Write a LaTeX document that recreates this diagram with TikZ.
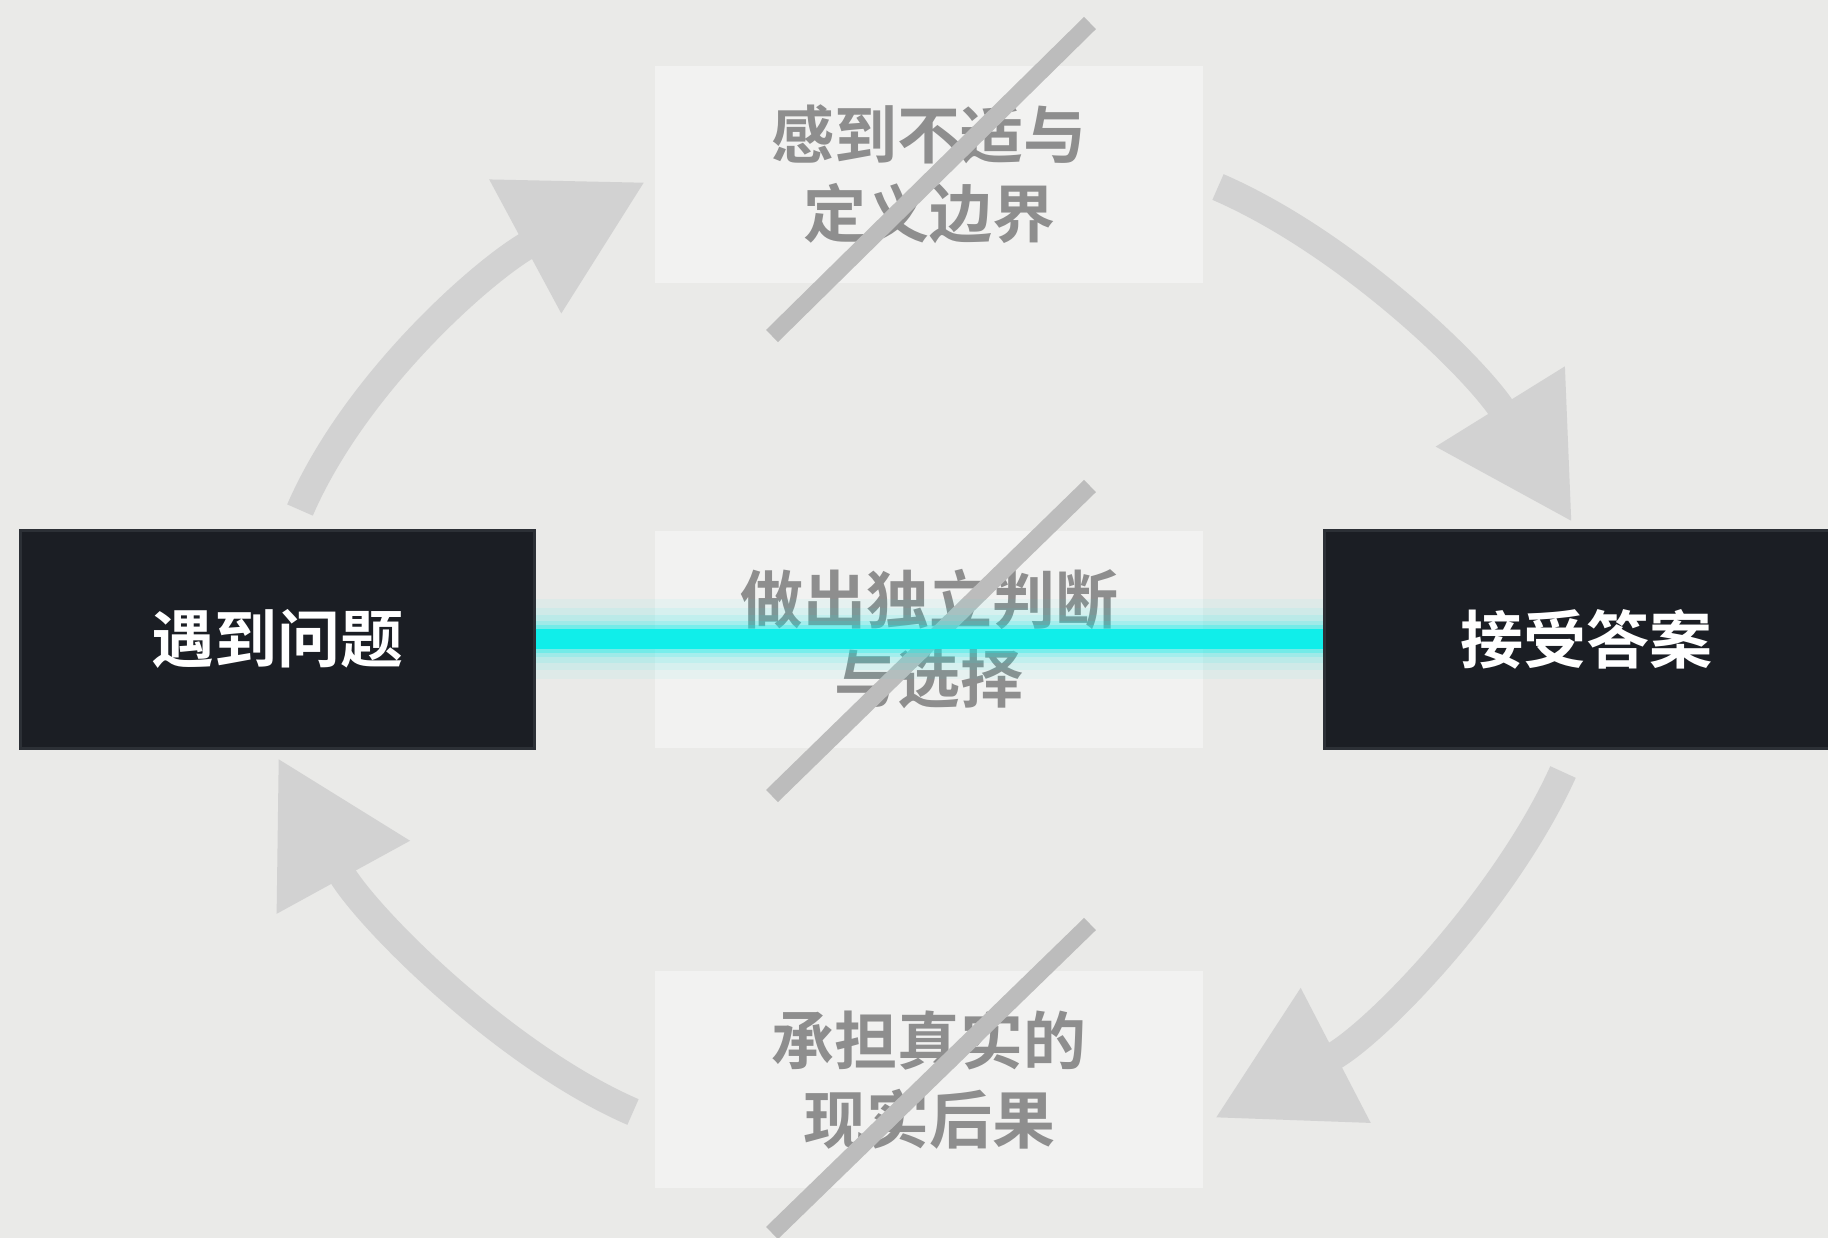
\documentclass[tikz,border=0pt]{standalone}
\usepackage{fontspec}
\newfontfamily\cjk{Noto Sans CJK SC}[BoldFont={Noto Sans CJK SC Bold}]
\usetikzlibrary{arrows.meta}
\definecolor{bg}{HTML}{EAEAE8}
\definecolor{lightfill}{HTML}{F2F2F1}
\definecolor{arrowgray}{HTML}{D2D2D2}
\definecolor{slashgray}{HTML}{BCBCBC}
\definecolor{graytext}{HTML}{8E8E8E}
\definecolor{darkfill}{HTML}{1B1E24}
\definecolor{darkedge}{HTML}{2C3036}
\definecolor{cyanline}{HTML}{10EEEA}
\begin{document}
\begin{tikzpicture}[x=0.5pt,y=-0.5pt,
  darkbox/.style={fill=darkfill, draw=darkedge, line width=1.5pt, minimum width=257pt,
    minimum height=109pt, inner sep=0pt, text=white,
    font=\cjk\bfseries\fontsize{31.5}{39.5}\selectfont},
  lightbox/.style={fill=lightfill, minimum width=274pt, minimum height=108.5pt,
    inner sep=0pt, text=graytext, align=center,
    font=\cjk\bfseries\fontsize{31.5}{39.5}\selectfont},
  cyc/.style={draw=arrowgray, line width=14pt, -{Triangle[length=68pt,width=72pt]}},
  slashline/.style={draw=slashgray, line width=8.5pt},
  glowline/.style={draw=cyanline}]
\clip (0,0) rectangle (1828,1238);
\fill[bg] (0,0) rectangle (1828,1238);

% nodes
\node[darkbox] (ask) at (277,639) {遇到问题};
\node[darkbox, minimum width=262pt, anchor=west] (acc) at (1323,639) {接受答案};
\node[lightbox] (feel) at (929,174.5) {感到不适与\\定义边界};
\node[lightbox] (judge) at (929,639) {做出独立判断\\与选择};
\node[lightbox] (bear) at (929,1079.5) {承担真实的\\现实后果};

% cycle arrows
\coordinate (tl0) at (300,510);  \coordinate (tl1) at (645,182);
\coordinate (tr0) at (1218,187); \coordinate (tr1) at (1572,522);
\coordinate (br0) at (1563,772); \coordinate (br1) at (1215,1118);
\coordinate (bl0) at (633,1112); \coordinate (bl1) at (278,758);
\draw[cyc] (tl0) .. controls (356,381) and (487,267) .. (tl1);
\draw[cyc] (tr0) .. controls (1347,243) and (1477,369) .. (tr1);
\draw[cyc] (br0) .. controls (1505,900) and (1375,1035) .. (br1);
\draw[cyc] (bl0) .. controls (504,1056) and (364,915) .. (bl1);

% slashes
\coordinate (s1a) at (1090,23);  \coordinate (s1b) at (772,336);
\coordinate (s2a) at (1090,486); \coordinate (s2b) at (772,796);
\coordinate (s3a) at (1090,924); \coordinate (s3b) at (772,1233);
\draw[slashline] (s1a) -- (s1b);
\draw[slashline] (s2a) -- (s2b);
\draw[slashline] (s3a) -- (s3b);

% cyan glowing line
\foreach \w/\o in {80/0.05, 62/0.07, 48/0.10, 36/0.16, 28/0.30}
  \draw[glowline, line width=\w*0.5pt, opacity=\o] (ask.east) -- (acc.west);
\draw[draw=cyanline, line width=10pt] (ask.east) -- (acc.west);
\end{tikzpicture}
\end{document}
